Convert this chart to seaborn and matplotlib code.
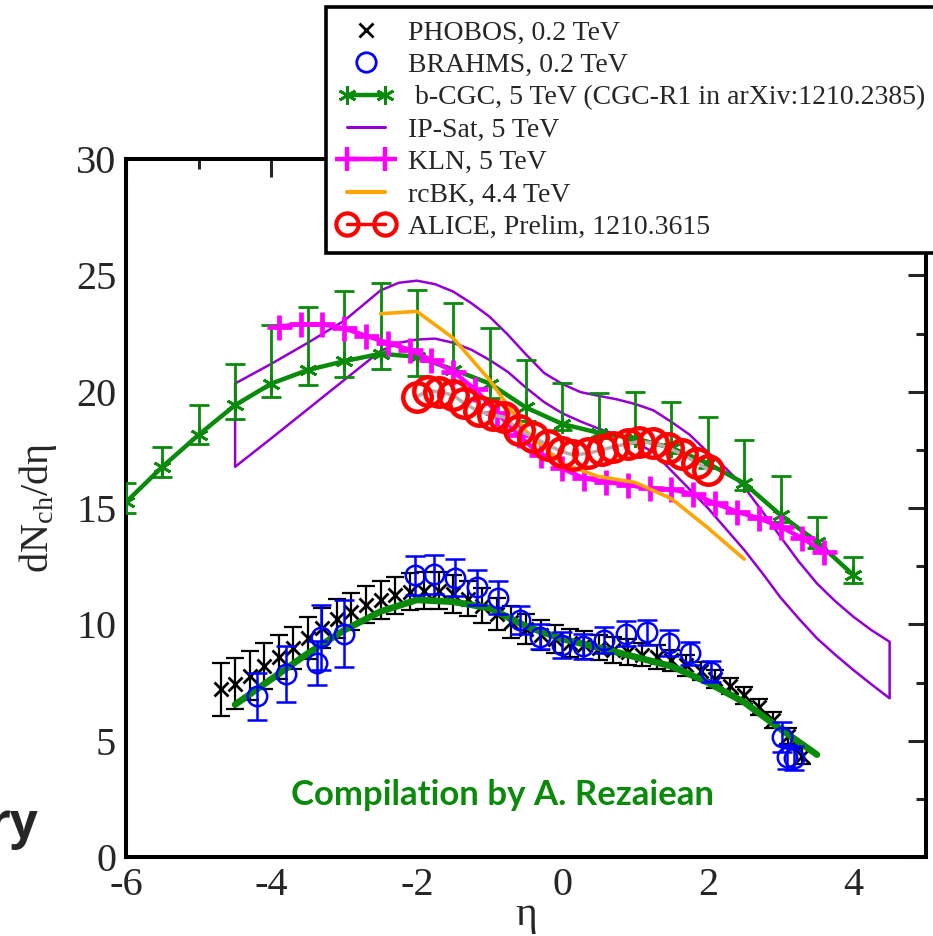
import matplotlib
matplotlib.use("Agg")
import matplotlib.pyplot as plt
import seaborn as sns
from matplotlib.lines import Line2D
from matplotlib.legend_handler import HandlerLine2D
from matplotlib.ticker import MultipleLocator

# PHOBOS, 0.2 TeV
phobos_eta = [-4.7, -4.5, -4.3, -4.1, -3.9, -3.7, -3.5, -3.3, -3.1, -2.9, -2.7, -2.5, -2.3, -2.1,
              -1.9, -1.7, -1.5, -1.3, -1.1, -0.9, -0.7, -0.5, -0.3, -0.1, 0.1, 0.3, 0.5, 0.7, 0.9,
              1.1, 1.3, 1.5, 1.7, 1.9, 2.1, 2.3, 2.5, 2.7, 2.9, 3.1, 3.3]
phobos_dn = [7.2, 7.45, 7.8, 8.2, 8.6, 9.0, 9.4, 9.85, 10.25, 10.55, 10.85, 11.05, 11.25, 11.4,
             11.45, 11.45, 11.3, 11.1, 10.8, 10.45, 10.1, 9.8, 9.55, 9.35, 9.2, 9.1, 9.0, 8.9, 8.8,
             8.7, 8.6, 8.45, 8.25, 8.0, 7.65, 7.35, 6.95, 6.45, 5.9, 5.2, 4.35]
phobos_err = [1.15, 1.1, 1.05, 1.0, 0.95, 0.9, 0.9, 0.85, 0.85, 0.8, 0.8, 0.8, 0.8, 0.8,
              0.8, 0.8, 0.8, 0.75, 0.75, 0.7, 0.7, 0.65, 0.65, 0.6, 0.6, 0.6, 0.55, 0.55, 0.55,
              0.5, 0.5, 0.45, 0.45, 0.4, 0.4, 0.36, 0.36, 0.35, 0.35, 0.35, 0.35]

# BRAHMS, 0.2 TeV
brahms_eta = [-4.2, -3.8, -3.38, -3.32, -3.0, -2.03, -1.77, -1.47, -1.18, -0.88, -0.58, -0.31,
              0.0, 0.29, 0.57, 0.88, 1.17, 1.47, 1.75, 2.05, 3.02, 3.09, 3.18]
brahms_dn = [6.9, 7.85, 8.35, 9.45, 9.6, 12.1, 12.15, 12.0, 11.6, 11.15, 10.2, 9.47,
             9.1, 9.05, 9.33, 9.6, 9.65, 9.2, 8.75, 7.96, 5.15, 4.3, 4.25]
brahms_err = [1.0, 1.2, 0.95, 1.4, 1.45, 0.85, 0.85, 0.8, 0.75, 0.7, 0.6, 0.55,
              0.55, 0.55, 0.55, 0.55, 0.55, 0.55, 0.5, 0.45, 0.65, 0.5, 0.5]

# b-CGC curve at 0.2 TeV (no legend entry)
cgc02_eta = [-4.5, -4.0, -3.5, -3.0, -2.5, -2.0, -1.5, -1.0, -0.5, 0.0, 0.5, 1.0, 1.5, 2.0, 2.5, 3.0, 3.5]
cgc02_dn = [6.55, 7.65, 8.75, 9.75, 10.55, 11.05, 10.97, 10.7, 9.92, 9.37, 9.0, 8.6, 8.2, 7.5, 6.65, 5.5, 4.4]

# b-CGC, 5 TeV with asymmetric band
bcgc_eta = [-6.0, -5.5, -5.0, -4.5, -4.0, -3.5, -3.0, -2.5, -2.0, -1.5, -1.0, -0.5, 0.0, 0.5,
            1.0, 1.5, 2.0, 2.5, 3.0, 3.5, 4.0]
bcgc_dn = [15.25, 16.77, 18.15, 19.42, 20.35, 20.93, 21.31, 21.63, 21.5, 20.95, 20.35, 19.32,
           18.61, 18.23, 17.99, 17.58, 16.92, 16.06, 14.7, 13.55, 12.12]
bcgc_lo = [0.48, 0.45, 0.38, 0.6, 0.6, 0.66, 0.67, 0.66, 0.82, 0.5, 0.64, 0.57, 0.26, 0.2,
           0.2, 0.2, 0.2, 0.29, 0.29, 0.29, 0.33]
bcgc_hi = [0.82, 0.86, 1.29, 1.78, 2.5, 2.72, 3.03, 3.06, 2.89, 2.87, 2.37, 2.04, 1.77, 1.72,
           2.0, 1.99, 2.0, 1.86, 1.67, 1.07, 0.76]

# IP-Sat, 5 TeV band (upper and lower edge)
ipsat_eta = [-4.5, -4.0, -3.5, -3.0, -2.5, -2.25, -2.0, -1.75, -1.5, -1.25, -1.0, -0.75, -0.5,
             -0.25, 0.0, 0.25, 0.5, 0.75, 1.0, 1.25, 1.5, 1.75, 2.0, 2.25, 2.5, 2.75, 3.0, 3.25,
             3.5, 3.75, 4.0, 4.25, 4.5]
ipsat_hi = [20.35, 21.2, 22.1, 23.05, 24.35, 24.68, 24.77, 24.62, 24.3, 23.8, 23.22, 22.45, 21.6,
            20.8, 20.33, 19.98, 19.82, 19.67, 19.47, 19.2, 18.7, 18.15, 17.4, 16.7, 15.9, 14.85,
            13.76, 12.7, 11.76, 11.0, 10.33, 9.75, 9.25]
ipsat_lo = [16.77, 18.0, 19.25, 20.5, 21.75, 22.1, 22.24, 22.28, 22.1, 21.8, 21.36, 20.85, 20.17,
            19.55, 19.07, 18.72, 18.41, 18.15, 17.83, 17.4, 16.6, 15.8, 15.0, 14.1, 13.2, 12.2,
            11.15, 10.25, 9.4, 8.7, 8.04, 7.42, 6.82]

# KLN, 5 TeV
kln_eta = [-3.9, -3.6, -3.3, -3.0, -2.7, -2.4, -2.1, -1.8, -1.5, -1.2, -0.9, -0.6, -0.3, 0.0,
           0.3, 0.6, 0.9, 1.2, 1.5, 1.8, 2.1, 2.4, 2.7, 3.0, 3.3, 3.6]
kln_dn = [22.8, 22.9, 22.9, 22.72, 22.4, 22.1, 21.8, 21.36, 20.86, 20.1, 19.1, 18.13, 17.28, 16.7,
          16.27, 16.13, 15.99, 15.84, 15.8, 15.6, 15.2, 14.84, 14.56, 14.19, 13.7, 13.12]

# rcBK, 4.4 TeV
rcbk_eta = [-2.5, -2.0, -1.5, -1.0, -0.5, 0.0, 0.5, 1.0, 1.5, 2.0, 2.5]
rcbk_dn = [23.35, 23.45, 22.3, 20.5, 18.3, 16.9, 16.35, 16.1, 15.4, 14.15, 12.8]

# ALICE, Prelim
alice_eta = [-2.0, -1.85, -1.7, -1.5, -1.35, -1.15, -0.95, -0.8, -0.6, -0.4, -0.2, 0.0, 0.15,
             0.35, 0.55, 0.7, 0.9, 1.05, 1.25, 1.45, 1.65, 1.85, 2.0]
alice_dn = [19.78, 20.05, 20.0, 19.85, 19.5, 19.15, 19.0, 18.9, 18.35, 18.05, 17.7, 17.42, 17.28,
            17.35, 17.5, 17.63, 17.77, 17.85, 17.8, 17.6, 17.3, 16.95, 16.65]

labels = ["PHOBOS, 0.2 TeV", "BRAHMS, 0.2 TeV", " b-CGC, 5 TeV (CGC-R1 in arXiv:1210.2385)",
          "IP-Sat, 5 TeV", "KLN, 5 TeV", "rcBK, 4.4 TeV", "ALICE, Prelim, 1210.3615"]

green = "#0a8a0a"
purple = "#9400d3"
magenta = "#ff00ff"
orange = "#ffa500"
asterisk = (6, 2, 0)

sns.set_style("white")
plt.rcParams['font.family'] = ['Liberation Serif', 'DejaVu Serif']
plt.rcParams['mathtext.fontset'] = 'custom'
plt.rcParams['mathtext.rm'] = 'Liberation Serif'
plt.rcParams['mathtext.it'] = 'Liberation Serif:italic'
plt.rcParams['axes.unicode_minus'] = False

fig = plt.figure(figsize=(9.33, 9.36), dpi=100)
ax = fig.add_axes([126 / 933, 1 - 857 / 936, 800 / 933, 698 / 936])

# low energy data
ax.errorbar(phobos_eta, phobos_dn, yerr=phobos_err, fmt='none', ecolor='black',
            elinewidth=1.6, capsize=6.5, capthick=1.6, zorder=2)
sns.lineplot(x=phobos_eta, y=phobos_dn, ax=ax, color='black', linestyle='none', marker='x',
             markersize=10, markeredgecolor='black', markeredgewidth=2,
             estimator=None, sort=False, zorder=2)
sns.lineplot(x=cgc02_eta, y=cgc02_dn, ax=ax, color=green, linewidth=4.8,
             estimator=None, sort=False, zorder=3)
ax.errorbar(brahms_eta, brahms_dn, yerr=brahms_err, fmt='none', ecolor='blue',
            elinewidth=1.8, capsize=7, capthick=1.8, zorder=4)
sns.lineplot(x=brahms_eta, y=brahms_dn, ax=ax, color='blue', linestyle='none', marker='o',
             markersize=14, markerfacecolor='none', markeredgecolor='blue', markeredgewidth=1.8,
             estimator=None, sort=False, zorder=4)

# IP-Sat band outline
band_x = ipsat_eta + ipsat_eta[::-1] + ipsat_eta[:1]
band_y = ipsat_hi + ipsat_lo[::-1] + ipsat_hi[:1]
sns.lineplot(x=band_x, y=band_y, ax=ax, color=purple, linewidth=1.8, estimator=None, sort=False, zorder=5)

# b-CGC 5 TeV
ax.errorbar(bcgc_eta, bcgc_dn, yerr=[bcgc_lo, bcgc_hi], fmt='none', ecolor=green,
            elinewidth=2, capsize=7, capthick=2, zorder=6)
sns.lineplot(x=bcgc_eta, y=bcgc_dn, ax=ax, color=green, linewidth=3.2, marker=asterisk,
             markersize=13, markeredgecolor=green, markeredgewidth=2,
             estimator=None, sort=False, zorder=6)

# KLN
sns.lineplot(x=kln_eta, y=kln_dn, ax=ax, color=magenta, linewidth=3.2, marker='+',
             markersize=18, markeredgecolor=magenta, markeredgewidth=3.4,
             estimator=None, sort=False, zorder=7)

# rcBK
sns.lineplot(x=rcbk_eta, y=rcbk_dn, ax=ax, color=orange, linewidth=2.6,
             estimator=None, sort=False, zorder=8)

# ALICE
sns.lineplot(x=alice_eta, y=alice_dn, ax=ax, color='#b0b0b0', linewidth=2.5, marker='o',
             markersize=20.5, markerfacecolor='none', markeredgecolor='red', markeredgewidth=3.2,
             estimator=None, sort=False, zorder=9)

ax.set_xlim(-6, 5)
ax.set_ylim(0, 30)
ax.xaxis.set_major_locator(MultipleLocator(2))
ax.xaxis.set_minor_locator(MultipleLocator(1))
ax.yaxis.set_major_locator(MultipleLocator(5))
ax.yaxis.set_minor_locator(MultipleLocator(2.5))
ax.tick_params(which='both', direction='in', top=True, right=True, width=2.2,
               labelsize=29, pad=7)
ax.tick_params(which='major', length=13)
ax.tick_params(which='minor', length=7)
for sp in ax.spines.values():
    sp.set_linewidth(2.9)
    sp.set_color('black')

ax.set_xlabel("η", fontsize=30, labelpad=-6)
ax.set_ylabel(r"dN$_{\mathrm{ch}}$/dη", fontsize=29, labelpad=12)

ax.text(0.471, 0.089, "Compilation by A. Rezaiean", transform=ax.transAxes, ha='center',
        va='center', color=green, fontsize=25, fontweight='bold', family=['Lato', 'DejaVu Sans'])
fig.text(38 / 933, 0.105, "ry", ha='right', va='baseline', fontsize=35, fontweight='bold',
         family=['Open Sans', 'DejaVu Sans'])

handles = [
    Line2D([], [], linestyle='none', marker='x', color='black', markersize=10, markeredgewidth=2),
    Line2D([], [], linestyle='none', marker='o', markerfacecolor='none', markeredgecolor='blue',
           markersize=14, markeredgewidth=2),
    Line2D([], [], color=green, linewidth=3.2, marker=asterisk, markersize=13, markeredgewidth=2),
    Line2D([], [], color=purple, linewidth=2.2),
    Line2D([], [], color=magenta, linewidth=3.2, marker='+', markersize=17, markeredgewidth=3.2),
    Line2D([], [], color=orange, linewidth=3),
    Line2D([], [], color='red', linewidth=2.5, marker='o', markerfacecolor='none',
           markeredgecolor='red', markersize=16, markeredgewidth=3),
]
single = HandlerLine2D(numpoints=1)
leg = fig.legend(handles, labels, loc='upper left', bbox_to_anchor=(326 / 933, 1 - 7 / 936),
                 bbox_transform=fig.transFigure, fontsize=20, numpoints=2, handlelength=1.95,
                 handletextpad=0.55, labelspacing=0.25, borderpad=0.47, borderaxespad=0,
                 frameon=True, fancybox=False, framealpha=1, edgecolor='black',
                 handler_map={handles[0]: single, handles[1]: single})
leg.get_frame().set_linewidth(2.6)
leg.set_zorder(20)

fig.savefig("out.png", dpi=100)
